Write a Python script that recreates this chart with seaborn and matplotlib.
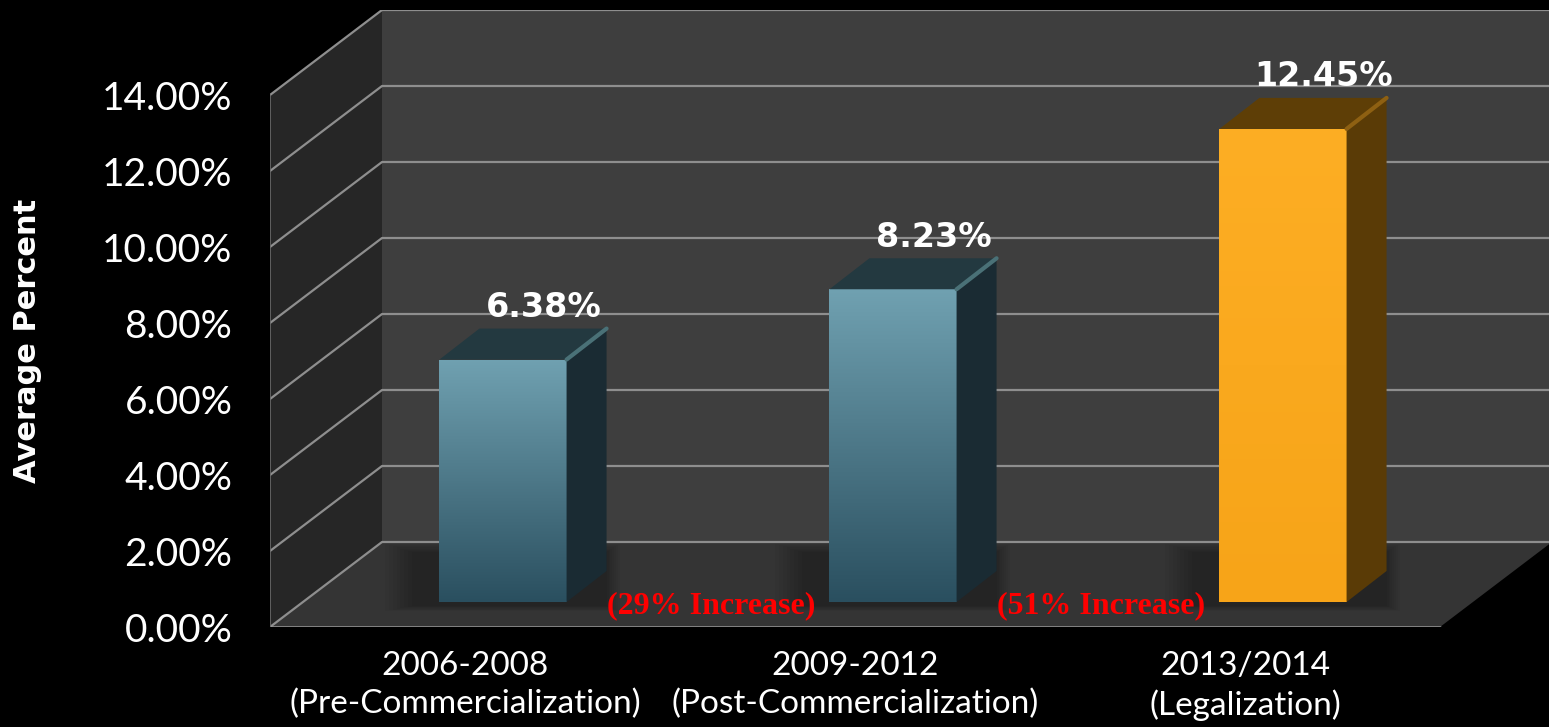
import numpy as np
import matplotlib
matplotlib.use("Agg")
import matplotlib.pyplot as plt
import seaborn as sns
import pandas as pd
from matplotlib.patches import Polygon
from matplotlib.colors import LinearSegmentedColormap

# ---- data ----
categories = ["2006-2008\n(Pre-Commercialization)",
              "2009-2012\n(Post-Commercialization)",
              "2013/2014\n(Legalization)"]
values = [6.38, 8.23, 12.45]
value_labels = ["6.38%", "8.23%", "12.45%"]
increase_labels = ["(29% Increase)", "(51% Increase)"]
y_ticks = [0, 2, 4, 6, 8, 10, 12, 14]
y_label = "Average Percent"

# ---- styles ----
front_colors = ["#4d7f90", "#4d7f90", "#fcab1f"]
grad_top = ["#70a1b1", "#70a1b1", "#fdae24"]
grad_bot = ["#2a4f5f", "#2a4f5f", "#f7a418"]
side_colors = ["#1a2b33", "#1a2b33", "#5a3b06"]
topf_colors = ["#233940", "#233940", "#5e3e06"]
edge_colors = ["#4a7177", "#4a7177", "#8e6012"]

sns.set_theme(style="white")
plt.rcParams["font.family"] = ["Lato", "DejaVu Sans"]

W, H = 1549, 727
fig = plt.figure(figsize=(W / 100, H / 100), dpi=100, facecolor="black")
ax = fig.add_axes([270 / W, 100 / H, (W - 270) / W, 617 / H])
ax.set_facecolor("black")

df = pd.DataFrame({"period": categories, "value": values})
sns.barplot(data=df, x="period", y="value", hue="period", palette=front_colors,
            saturation=1, width=0.326, legend=False, ax=ax, zorder=4,
            edgecolor="none", linewidth=0)
bars = list(ax.patches)

PX_X = 390.0   # px per category
PX_Y = 38.0    # px per percent
DXW, DYW = 112 / PX_X, 85 / PX_Y        # wall depth
DXB, DYB = 38 / PX_X, 25 / PX_Y         # bar front offset (depth)
DDX, DDY = 40 / PX_X, 31 / PX_Y         # bar depth
x0, x1 = -0.5, 2.5
xr = -0.5 + (W - 270) / PX_X
ytop = 617 / PX_Y

# ---- 3D walls ----
ax.add_patch(Polygon([(x0 + DXW, DYW), (xr + 1, DYW), (xr + 1, 14 + DYW), (x0 + DXW, 14 + DYW)],
                     closed=True, fc="#3e3e3e", ec="none", zorder=0.5))
ax.add_patch(Polygon([(x0, 0), (x0 + DXW, DYW), (x0 + DXW, 14 + DYW), (x0, 14)],
                     closed=True, fc="#262626", ec="none", zorder=0.6))
ax.add_patch(Polygon([(x0, 0), (x1, 0), (x1 + DXW * 3, DYW * 3), (x1 + DXW, DYW), (x0 + DXW, DYW)],
                     closed=True, fc="#343434", ec="none", zorder=0.7))

grid_c = "#8e8e8e"
for t in y_ticks:
    ax.plot([x0 + DXW, xr + 1], [t + DYW, t + DYW], color=grid_c, lw=1.6, zorder=1, solid_capstyle="butt")
    ax.plot([x0, x0 + DXW], [t, t + DYW], color=grid_c, lw=1.6, zorder=1)
ax.plot([x0, x1], [0, 0], color="#9a9a9a", lw=1.8, zorder=1.2)
ax.plot([x0, x0], [0, 14], color="#6a6a6a", lw=1.2, zorder=1.2)

# ---- 3D bars ----
for i, p in enumerate(bars):
    p.set_x(p.get_x() + DXB)
    p.set_y(p.get_y() + DYB)
    x, w, y, h = p.get_x(), p.get_width(), p.get_y(), p.get_height()
    top = y + h
    # soft shadow, mostly to the left / behind the bar foot
    for k in range(8):
        e = 0.01 * k
        ax.add_patch(Polygon([(x - 0.07 - e, y - 0.1 - e * 2), (x + w + DDX + e * 0.5, y - 0.1 - e * 2),
                              (x + w + DDX + e * 0.5, y + DDY + 0.5 + e * 3), (x - 0.07 - e, y + DDY + 0.5 + e * 3)],
                             closed=True, fc="black", ec="none", alpha=0.03, zorder=2))
    # gradient front face
    cmap = LinearSegmentedColormap.from_list("g%d" % i, [grad_bot[i], grad_top[i]])
    grad = np.linspace(0, 1, 256).reshape(-1, 1)
    im = ax.imshow(grad, cmap=cmap, extent=(x, x + w, y, top), origin="lower",
                   aspect="auto", zorder=4.1, interpolation="bicubic")
    im.set_clip_path(p)
    # side face
    ax.add_patch(Polygon([(x + w, y), (x + w + DDX, y + DDY), (x + w + DDX, top + DDY), (x + w, top)],
                         closed=True, fc=side_colors[i], ec="none", zorder=4.2))
    # top face
    ax.add_patch(Polygon([(x, top), (x + w, top), (x + w + DDX, top + DDY), (x + DDX, top + DDY)],
                         closed=True, fc=topf_colors[i], ec="none", zorder=4.3))
    ax.plot([x + w, x + w + DDX], [top, top + DDY], color=edge_colors[i], lw=3, zorder=4.4,
            solid_capstyle="round")
    ax.text(x + w / 2 + 0.105, top + DDY + 0.3, value_labels[i], ha="center", va="baseline",
            color="white", fontsize=24, fontweight="bold", family=["DejaVu Sans"], zorder=6)

for i, lab in enumerate(increase_labels):
    ax.text(i + 0.5 + 0.131, 0.55, lab, ha="center", va="center", color="#ff0000",
            fontsize=23, fontweight="bold", family=["Liberation Serif", "DejaVu Serif"], zorder=6)

# ---- axes ----
ax.set_xlim(x0, xr)
ax.set_ylim(0, ytop)
ax.set_autoscale_on(False)
ax.set_yticks(y_ticks)
ax.set_yticklabels(["{:.2f}%".format(t) for t in y_ticks])
ax.tick_params(axis="y", length=0, pad=27, labelsize=28, labelcolor="white")
ax.tick_params(axis="x", length=0, pad=17, labelsize=24, labelcolor="white")
for lbl in ax.get_xticklabels():
    lbl.set_linespacing(1.35)
ax.set_xlabel("")
ax.set_ylabel("")
for s in ax.spines.values():
    s.set_visible(False)
ax.grid(False)

fig.text(28 / W, 1 - 341 / H, y_label, rotation=90, ha="center", va="center",
         color="white", fontsize=22, fontweight="bold", family=["DejaVu Sans"])

fig.savefig("out.png", dpi=100, facecolor="black")
